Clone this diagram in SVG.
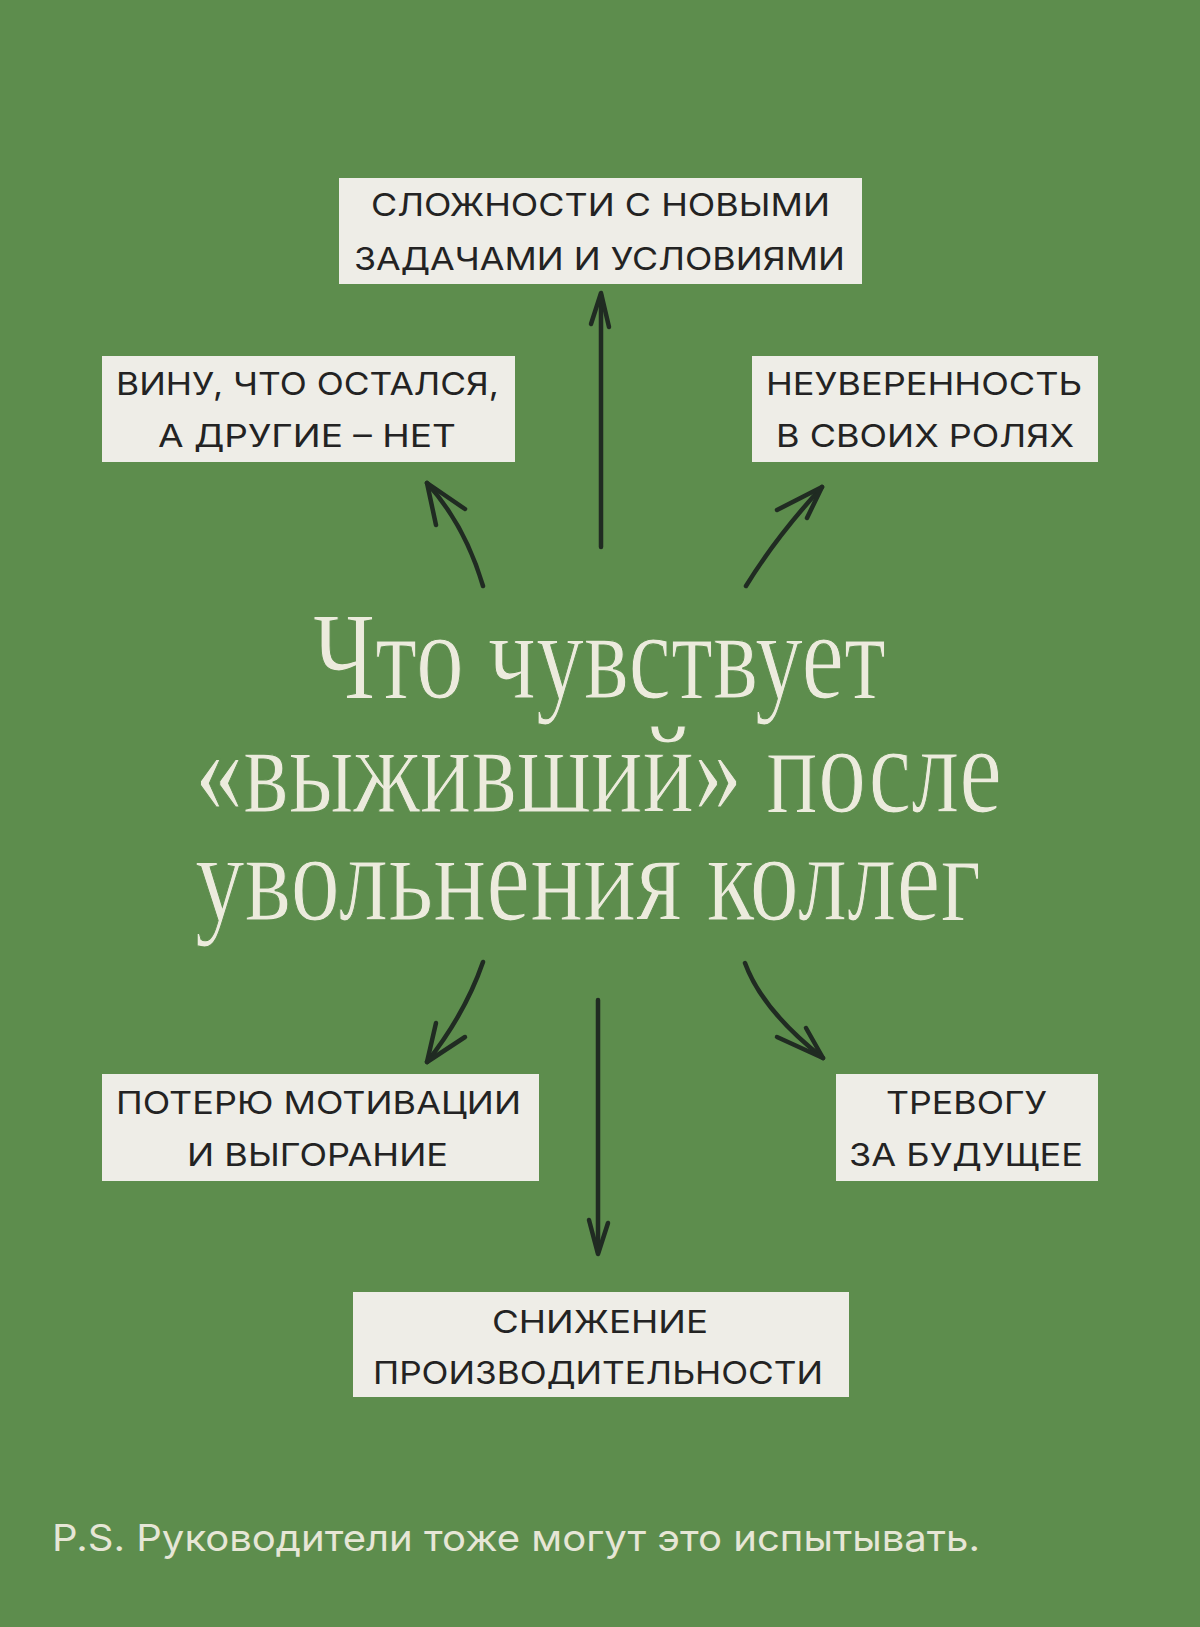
<svg xmlns="http://www.w3.org/2000/svg" width="1200" height="1627" viewBox="0 0 1200 1627">
<style>
.bg{fill:#5d8d4d}
.box{fill:#eeede7}
.lbl{font-family:Inter,"Liberation Sans","DejaVu Sans",sans-serif;font-size:31.5px;fill:#232323;font-weight:400}
.title{font-family:"Liberation Serif","DejaVu Serif",serif;font-size:124px;fill:#ecebdd;stroke:#5d8d4d;stroke-width:1.2}
.ps{font-family:Inter,"Liberation Sans","DejaVu Sans",sans-serif;font-size:37px;fill:#e6e6d6}
.ar{fill:none;stroke:#202b22;stroke-width:4.5;stroke-linecap:round;stroke-linejoin:round}
</style>
<rect class="bg" x="0" y="0" width="1200" height="1627"/>

<g id="connectors">
  <path class="ar" d="M601 547 L601 295"/>
  <path class="ar" d="M591 324 L601 293 L609 327"/>
  <path class="ar" d="M483 586 Q465 525 427 483"/>
  <path class="ar" d="M436 525 L427 483 L465 509"/>
  <path class="ar" d="M746 586 Q776 537 822 487"/>
  <path class="ar" d="M777 510 L822 487 L807 518"/>
  <path class="ar" d="M483 962 Q465 1014 427 1062"/>
  <path class="ar" d="M436 1023 L427 1062 L465 1037"/>
  <path class="ar" d="M745 963 Q762 1010 823 1058"/>
  <path class="ar" d="M777 1037 L823 1058 L806 1028"/>
  <path class="ar" d="M598 1000 L598 1252"/>
  <path class="ar" d="M589 1220 L598 1254 L608 1223"/>
</g>

<g id="title">
  <text class="title" x="313" y="698" textLength="573" lengthAdjust="spacingAndGlyphs">Что чувствует</text>
  <text class="title" x="195" y="812" textLength="807" lengthAdjust="spacingAndGlyphs">«выживший» после</text>
  <text class="title" x="195" y="920" textLength="786" lengthAdjust="spacingAndGlyphs">увольнения коллег</text>
</g>

<g id="node-top">
  <rect class="box" x="339" y="178" width="523" height="106"/>
  <text class="lbl" x="371" y="216" textLength="459" lengthAdjust="spacingAndGlyphs">СЛОЖНОСТИ С НОВЫМИ</text>
  <text class="lbl" x="354" y="270" textLength="491" lengthAdjust="spacingAndGlyphs">ЗАДАЧАМИ И УСЛОВИЯМИ</text>
</g>

<g id="node-guilt">
  <rect class="box" x="102" y="356" width="413" height="106"/>
  <text class="lbl" x="116" y="395" textLength="383" lengthAdjust="spacingAndGlyphs">ВИНУ, ЧТО ОСТАЛСЯ,</text>
  <text class="lbl" x="158" y="447" textLength="298" lengthAdjust="spacingAndGlyphs">А ДРУГИЕ – НЕТ</text>
</g>

<g id="node-uncertainty">
  <rect class="box" x="752" y="356" width="346" height="106"/>
  <text class="lbl" x="766" y="395" textLength="316" lengthAdjust="spacingAndGlyphs">НЕУВЕРЕННОСТЬ</text>
  <text class="lbl" x="776" y="447" textLength="298" lengthAdjust="spacingAndGlyphs">В СВОИХ РОЛЯХ</text>
</g>

<g id="node-motivation">
  <rect class="box" x="102" y="1074" width="437" height="107"/>
  <text class="lbl" x="116" y="1114" textLength="405" lengthAdjust="spacingAndGlyphs">ПОТЕРЮ МОТИВАЦИИ</text>
  <text class="lbl" x="187" y="1166" textLength="261" lengthAdjust="spacingAndGlyphs">И ВЫГОРАНИЕ</text>
</g>

<g id="node-anxiety">
  <rect class="box" x="836" y="1074" width="262" height="107"/>
  <text class="lbl" x="886" y="1114" textLength="161" lengthAdjust="spacingAndGlyphs">ТРЕВОГУ</text>
  <text class="lbl" x="849" y="1166" textLength="234" lengthAdjust="spacingAndGlyphs">ЗА БУДУЩЕЕ</text>
</g>

<g id="node-productivity">
  <rect class="box" x="353" y="1292" width="496" height="105"/>
  <text class="lbl" x="492" y="1333" textLength="216" lengthAdjust="spacingAndGlyphs">СНИЖЕНИЕ</text>
  <text class="lbl" x="373" y="1384" textLength="450" lengthAdjust="spacingAndGlyphs">ПРОИЗВОДИТЕЛЬНОСТИ</text>
</g>

<g id="footnote">
  <text class="ps" x="52" y="1551" textLength="928" lengthAdjust="spacingAndGlyphs">P.S. Руководители тоже могут это испытывать.</text>
</g>
</svg>
